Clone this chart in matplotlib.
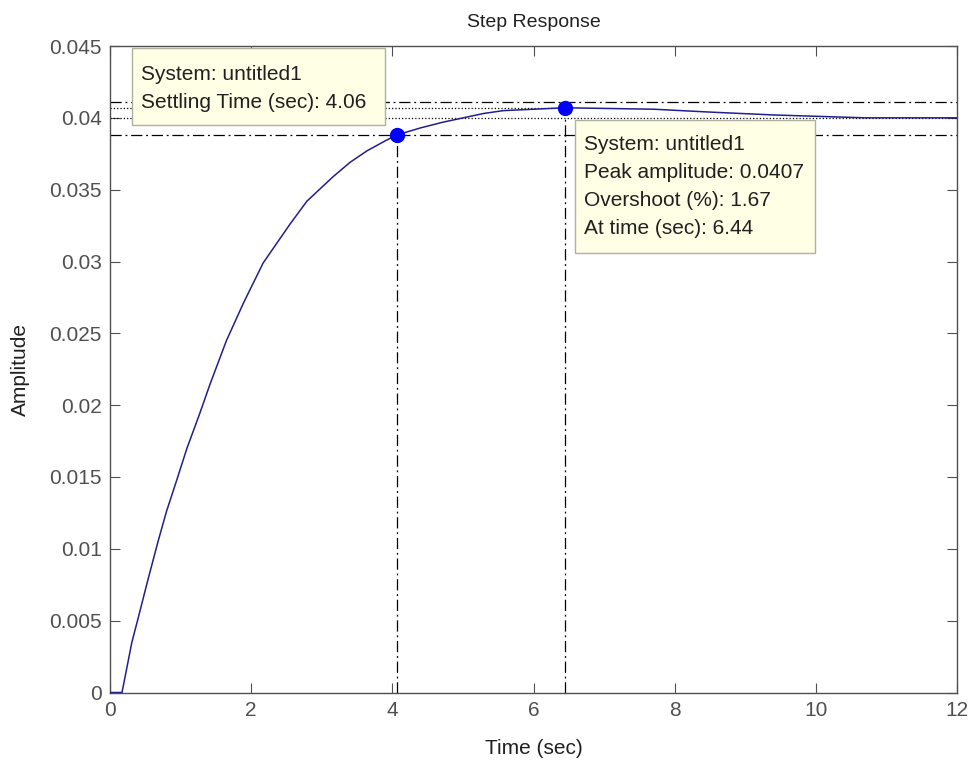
import matplotlib.pyplot as plt

# step response
t = [0, 0.17, 0.31, 0.40, 0.54, 0.68, 0.80, 0.94, 1.09, 1.27, 1.42, 1.65, 1.89, 2.17,
     2.55, 2.79, 3.16, 3.40, 3.64, 3.90, 4.06, 4.40, 4.72, 5.29, 5.57, 6.44, 7.7, 8.5,
     9.4, 10.7, 12]
y = [0, 0, 0.0035, 0.0052, 0.0079, 0.0105, 0.0126, 0.0147, 0.0170, 0.0194, 0.0215,
     0.0245, 0.0271, 0.0299, 0.0326, 0.0342, 0.0359, 0.0369, 0.0377, 0.0384, 0.0388,
     0.0393, 0.0397, 0.0403, 0.0405, 0.0407, 0.0406, 0.0404, 0.0402, 0.0400, 0.0400]

final_value = 0.04
settle_upper = 0.0411
settle_lower = 0.0388
settle_time = 4.06
peak_time = 6.44
peak_amp = 0.0407

xticks = [0, 2, 4, 6, 8, 10, 12]
yticks = [0, 0.005, 0.01, 0.015, 0.02, 0.025, 0.03, 0.035, 0.04, 0.045]
ylabels = ['0', '0.005', '0.01', '0.015', '0.02', '0.025', '0.03', '0.035', '0.04', '0.045']

plt.rcParams['font.family'] = ['Liberation Sans', 'DejaVu Sans']
W, H = 969, 763
fig = plt.figure(figsize=(W / 100, H / 100), dpi=100)
ax = fig.add_axes([110 / W, 1 - 692.5 / H, 847 / W, 646.5 / H])

gray = '#505050'
fs = 15
dashdot = (0, (9, 3, 1.5, 3))

ax.plot(t, y, color='#1f1f8f', lw=1.1, zorder=3)

# steady state + settling bounds
ax.axhline(final_value, color='k', lw=0.9, ls=':', zorder=2)
ax.axhline(settle_upper, color='k', lw=0.9, ls=dashdot, zorder=2)
ax.axhline(settle_lower, color='k', lw=0.9, ls=dashdot, zorder=2)
ax.plot([0, peak_time], [peak_amp, peak_amp], color='k', lw=0.9, ls=':', zorder=2)
ax.plot([settle_time, settle_time], [0, settle_lower], color='k', lw=0.9, ls=dashdot, zorder=2)
ax.plot([peak_time, peak_time], [0, peak_amp], color='k', lw=0.9, ls=dashdot, zorder=2)

ax.plot(settle_time, settle_lower, 'o', color='#0000ff', ms=10, zorder=5)
ax.plot(peak_time, peak_amp, 'o', color='#0000ff', ms=10, zorder=5)

ax.set_xlim(0, 12)
ax.set_ylim(0, 0.045)
ax.set_xticks(xticks)
ax.set_xticklabels([str(v) for v in xticks])
ax.set_yticks(yticks)
ax.set_yticklabels(ylabels)
ax.tick_params(direction='in', length=7, top=True, right=True, colors=gray,
               labelsize=fs, pad=6)
for s in ax.spines.values():
    s.set_color(gray)
    s.set_linewidth(1.0)

ax.set_title('Step Response', fontsize=14, pad=14, color='#202020')
ax.set_xlabel('Time (sec)', fontsize=fs, color='#202020', labelpad=14)
ax.set_ylabel('Amplitude', fontsize=fs, color='#202020', labelpad=14)

# data tips
def tip(x0, y0, x1, y1, lines, ys):
    r = plt.Rectangle((x0 / W, 1 - y1 / H), (x1 - x0) / W, (y1 - y0) / H,
                      transform=fig.transFigure, facecolor='#ffffe6',
                      edgecolor='#b0b0a0', lw=1, zorder=10)
    fig.patches.append(r)
    for line, yy in zip(lines, ys):
        fig.text((x0 + 9) / W, 1 - yy / H, line, fontsize=fs, va='center',
                 color='#202020', zorder=11)

tip(132, 48, 385, 125, ['System: untitled1', 'Settling Time (sec): 4.06'], [75, 102])
tip(575, 120, 815, 253, ['System: untitled1', 'Peak amplitude: 0.0407',
                         'Overshoot (%): 1.67', 'At time (sec): 6.44'],
    [145, 173, 201, 229])

fig.savefig('out.png', dpi=100)
